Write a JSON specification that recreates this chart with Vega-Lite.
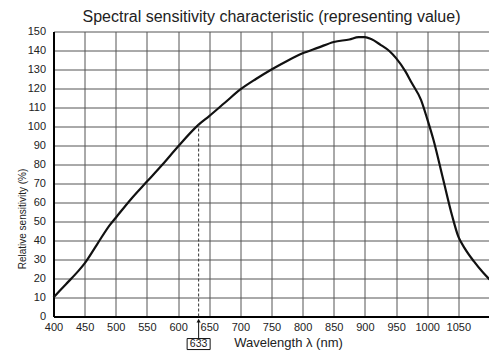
{
  "$schema": "https://vega.github.io/schema/vega-lite/v6.json",
  "width": 436,
  "height": 285,
  "autosize": {"type": "none"},
  "padding": {"left": 53.5, "top": 31.5, "right": 0, "bottom": 34.5},
  "background": "white",
  "title": {
    "text": "Spectral sensitivity characteristic (representing value)",
    "font": "Liberation Sans",
    "fontSize": 16,
    "fontWeight": "normal",
    "color": "#222",
    "anchor": "middle",
    "offset": 1
  },
  "config": {
    "view": {"stroke": null},
    "font": "Liberation Sans"
  },
  "datasets": {
    "curve": [
      {"wl": 400, "rel": 10},
      {"wl": 420, "rel": 17},
      {"wl": 440, "rel": 24},
      {"wl": 450, "rel": 28},
      {"wl": 470, "rel": 38},
      {"wl": 490, "rel": 48},
      {"wl": 500, "rel": 52},
      {"wl": 525, "rel": 62},
      {"wl": 550, "rel": 71},
      {"wl": 575, "rel": 80},
      {"wl": 600, "rel": 89.5},
      {"wl": 633, "rel": 101},
      {"wl": 650, "rel": 105.5},
      {"wl": 675, "rel": 112.5},
      {"wl": 700, "rel": 119.5},
      {"wl": 725, "rel": 125},
      {"wl": 750, "rel": 130},
      {"wl": 775, "rel": 134.5},
      {"wl": 800, "rel": 138.5},
      {"wl": 825, "rel": 141.5},
      {"wl": 850, "rel": 144.5},
      {"wl": 875, "rel": 145.8},
      {"wl": 890, "rel": 147},
      {"wl": 900, "rel": 147},
      {"wl": 910, "rel": 146},
      {"wl": 925, "rel": 143},
      {"wl": 940, "rel": 139.5},
      {"wl": 950, "rel": 136},
      {"wl": 965, "rel": 129},
      {"wl": 975, "rel": 123},
      {"wl": 990, "rel": 114},
      {"wl": 1000, "rel": 104},
      {"wl": 1010, "rel": 93},
      {"wl": 1025, "rel": 73},
      {"wl": 1040, "rel": 53},
      {"wl": 1050, "rel": 42},
      {"wl": 1060, "rel": 36},
      {"wl": 1075, "rel": 29},
      {"wl": 1090, "rel": 23},
      {"wl": 1100, "rel": 19.5}
    ],
    "dashed": [{"wl": 633, "rel": 0, "rel2": 101}],
    "arrow": [{"wl": 633, "rel": -2.2, "rel2": -11.5}],
    "box": [{"wl": 633, "rel": -14.5, "label": "633"}]
  },
  "encoding": {
    "x": {
      "field": "wl", "type": "quantitative",
      "scale": {"domain": [400, 1100], "nice": false, "zero": false},
      "axis": {
        "values": [400, 450, 500, 550, 600, 650, 700, 750, 800, 850, 900, 950, 1000, 1050],
        "format": "d",
        "labelOverlap": false,
        "title": "Wavelength λ (nm)",
        "titleFont": "Liberation Sans",
        "titleFontSize": 13,
        "titleFontWeight": "normal",
        "titleColor": "#222",
        "titleX": 234.5,
        "titleY": 30,
        "titleAlign": "center",
        "titleBaseline": "alphabetic",
        "labelFontSize": 11,
        "labelColor": "#222",
        "labelPadding": 5,
        "labelFlush": false,
        "ticks": false,
        "domainColor": "#000",
        "domainWidth": 2,
        "grid": true,
        "gridColor": "#555",
        "gridWidth": 1,
        "gridOpacity": 1
      }
    },
    "y": {
      "field": "rel", "type": "quantitative",
      "scale": {"domain": [0, 150], "nice": false},
      "axis": {
        "values": [0, 10, 20, 30, 40, 50, 60, 70, 80, 90, 100, 110, 120, 130, 140, 150],
        "format": "d",
        "labelOverlap": false,
        "title": "Relative sensitivity  (%)",
        "titleFont": "Liberation Sans",
        "titleFontSize": 10,
        "titleFontWeight": "normal",
        "titleColor": "#222",
        "titleX": -31,
        "titleY": 187,
        "titleAngle": -90,
        "titleAlign": "center",
        "titleBaseline": "middle",
        "labelFontSize": 11,
        "labelColor": "#222",
        "labelPadding": 8,
        "labelFlush": false,
        "ticks": false,
        "domainColor": "#000",
        "domainWidth": 2,
        "grid": true,
        "gridColor": "#555",
        "gridWidth": 1,
        "gridOpacity": 1
      }
    }
  },
  "layer": [
    {
      "data": {"name": "curve"},
      "mark": {"type": "line", "color": "#111", "strokeWidth": 2.2, "interpolate": "monotone"}
    },
    {
      "data": {"name": "dashed"},
      "mark": {"type": "rule", "color": "#333", "strokeWidth": 1, "strokeDash": [3, 2]},
      "encoding": {"y2": {"field": "rel2"}}
    },
    {
      "data": {"name": "arrow"},
      "mark": {"type": "rule", "color": "#111", "strokeWidth": 1},
      "encoding": {"y2": {"field": "rel2"}}
    },
    {
      "data": {"name": "arrow"},
      "mark": {"type": "point", "shape": "triangle-up", "filled": true, "color": "#111", "size": 18, "opacity": 1}
    },
    {
      "data": {"name": "box"},
      "mark": {"type": "point", "shape": "M -1 -0.478 L 1 -0.478 L 1 0.478 L -1 0.478 Z", "filled": false, "stroke": "#111", "strokeWidth": 1, "size": 529, "opacity": 1}
    },
    {
      "data": {"name": "box"},
      "mark": {"type": "text", "font": "Liberation Sans", "fontSize": 10.5, "color": "#222", "align": "center", "baseline": "middle"},
      "encoding": {"text": {"field": "label"}}
    }
  ]
}
